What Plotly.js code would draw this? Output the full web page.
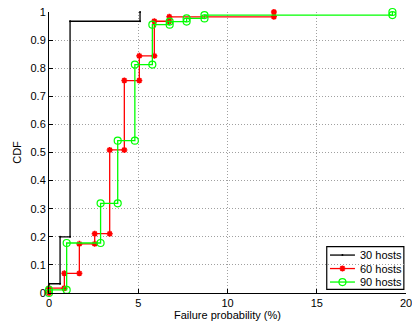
<!DOCTYPE html>
<html>
<head>
<meta charset="utf-8">
<script src="https://cdn.plot.ly/plotly-3.0.1.min.js"></script>
<style>
html,body{margin:0;padding:0;background:#fff;}
#chart{width:412px;height:325px;}
</style>
</head>
<body>
<div id="chart"></div>
<script>
// Data (x: failure probability %, y: CDF level after the step)
var seriesNames = ["30 hosts", "60 hosts", "90 hosts"];
var hosts30X = [0, 0.62, 1.18, 5.1];
var hosts30Y = [0.033, 0.2, 0.967, 1.0];
var hosts60X = [0, 0.86, 1.70, 2.56, 3.40, 4.22, 5.06, 5.90, 6.74, 12.6];
var hosts60Y = [0.017, 0.07, 0.175, 0.211, 0.509, 0.756, 0.844, 0.967, 0.983, 1.0];
var hosts90X = [0, 0.99, 2.89, 3.85, 4.81, 5.79, 6.76, 7.71, 8.71, 19.24];
var hosts90Y = [0.011, 0.178, 0.319, 0.542, 0.813, 0.955, 0.966, 0.977, 0.989, 1.0];
var xTicks = [0, 5, 10, 15, 20];
var yTicks = [0, 0.1, 0.2, 0.3, 0.4, 0.5, 0.6, 0.7, 0.8, 0.9, 1];

// Build staircase vertices (as MATLAB stairs draws them)
function stairs(xs, ys) {
  var vx = [], vy = [];
  var prev = 0;
  for (var i = 0; i < xs.length; i++) {
    vx.push(xs[i]); vy.push(prev);
    vx.push(xs[i]); vy.push(ys[i]);
    prev = ys[i];
  }
  return {x: vx, y: vy};
}

var s30 = stairs(hosts30X, hosts30Y);
var s60 = stairs(hosts60X, hosts60Y);
var s90 = stairs(hosts90X, hosts90Y);

var colors = ['#000000', '#ff0000', '#00ff00'];
var markers = [
  {symbol: 'circle', size: 2, color: '#000000'},
  {symbol: 'asterisk-open', size: 5, color: '#ff0000', line: {color: '#ff0000', width: 1.6}},
  {symbol: 'circle-open', size: 7, color: '#00ff00', line: {color: '#00ff00', width: 1.2}}
];
var series = [s30, s60, s90];

var traces = series.map(function (s, i) {
  return {x: s.x, y: s.y, name: seriesNames[i], type: 'scatter', mode: 'lines+markers',
    line: {color: colors[i], width: 1.3}, marker: markers[i], cliponaxis: false,
    showlegend: false};
});

// Custom compact legend (MATLAB style), in plot-area fractions
var leg = {x0: 0.778, x1: 0.994, y0: 0.013, y1: 0.165,
           rows: [0.135, 0.087, 0.039], lineX0: 0.787, lineX1: 0.857, markX: 0.822, textX: 0.866};
var shapes = [{type: 'rect', xref: 'paper', yref: 'paper', x0: leg.x0, x1: leg.x1, y0: leg.y0, y1: leg.y1,
               line: {color: '#000', width: 1.2}, fillcolor: '#ffffff', layer: 'between'}];
var annotations = [];
seriesNames.forEach(function (n, i) {
  shapes.push({type: 'line', xref: 'paper', yref: 'paper', x0: leg.lineX0, x1: leg.lineX1,
               y0: leg.rows[i], y1: leg.rows[i], line: {color: colors[i], width: 1.3}, layer: 'between'});
  annotations.push({xref: 'paper', yref: 'paper', x: leg.textX, y: leg.rows[i], text: n,
                    showarrow: false, xanchor: 'left', yanchor: 'middle',
                    font: {size: 11, color: '#000'}});
  traces.push({x: [leg.markX], y: [leg.rows[i]], xaxis: 'x2', yaxis: 'y2', type: 'scatter',
               mode: 'markers', marker: markers[i], showlegend: false, cliponaxis: false});
});

var fontFam = 'Liberation Sans, Arial, Helvetica, sans-serif';
var layout = {
  width: 412, height: 325,
  margin: {l: 49, r: 6, t: 12, b: 32, pad: 0},
  paper_bgcolor: '#ffffff', plot_bgcolor: '#ffffff',
  font: {family: fontFam, size: 11, color: '#000000'},
  showlegend: false,
  shapes: shapes,
  annotations: annotations,
  xaxis: {range: [0, 20], tickvals: xTicks, ticktext: xTicks.map(String),
          showgrid: true, gridcolor: '#a0a0a0', griddash: '1px,2px', gridwidth: 1,
          zeroline: false, showline: true, linecolor: '#000', linewidth: 1,
          ticks: 'inside', ticklen: 4, tickcolor: '#000', ticklabeloverflow: 'allow',
          title: {text: 'Failure probability (%)', font: {size: 11, family: fontFam}, standoff: 3}},
  yaxis: {range: [0, 1], tickvals: yTicks, ticktext: yTicks.map(String),
          showgrid: true, gridcolor: '#a0a0a0', griddash: '1px,2px', gridwidth: 1,
          zeroline: false, showline: true, linecolor: '#000', linewidth: 1,
          ticks: 'inside', ticklen: 4, tickcolor: '#000',
          title: {text: 'CDF', font: {size: 11, family: fontFam}, standoff: 6}},
  xaxis2: {overlaying: 'x', range: [0, 1], visible: false, fixedrange: true},
  yaxis2: {overlaying: 'y', range: [0, 1], visible: false, fixedrange: true}
};

Plotly.newPlot('chart', traces, layout, {displayModeBar: false, staticPlot: true});
</script>
</body>
</html>
